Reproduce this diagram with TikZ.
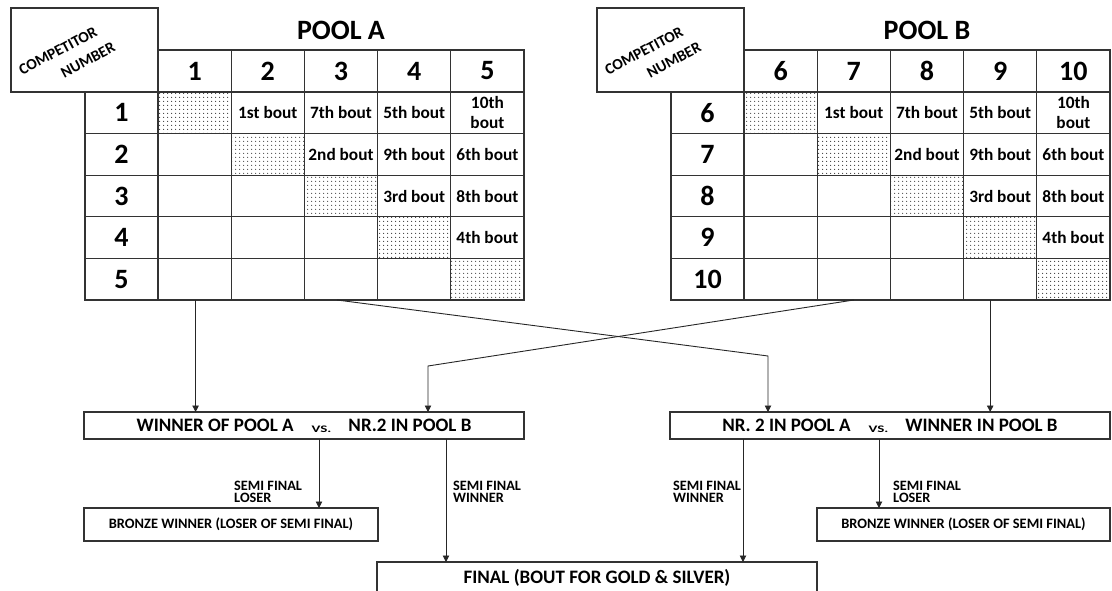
\documentclass[tikz,border=0pt]{standalone}
\usepackage{fontspec}
\setmainfont{Carlito}
\usetikzlibrary{arrows.meta,patterns}
\pgfdeclarepatternformonly{sdots}{\pgfpointorigin}{\pgfpoint{3.6pt}{4pt}}{\pgfpoint{3.6pt}{4pt}}{\pgfpathcircle{\pgfpoint{1.8pt}{2pt}}{0.6pt}\pgfusepath{fill}}
\tikzset{
  cell/.style={draw=black!80, line width=1.2pt, minimum width=73.2pt, minimum height=41.6pt,
    inner sep=0pt, outer sep=0pt, font=\fontsize{17.3}{20}\selectfont\bfseries, align=center},
  hcell/.style={cell, minimum height=42pt, font=\fontsize{28}{30}\selectfont\bfseries},
  rcell/.style={cell, minimum width=73pt, font=\fontsize{28}{30}\selectfont\bfseries},
  dotcell/.style={cell, pattern=sdots, pattern color=black!85},
  pooltitle/.style={font=\fontsize{28}{30}\selectfont\bfseries, inner sep=0pt},
  comptxt/.style={font=\fontsize{15.5}{18}\selectfont\bfseries, inner sep=0pt, rotate=28},
  mbox/.style={draw=black!80, line width=1.1pt, minimum width=440pt, minimum height=27pt,
    inner sep=0pt, outer sep=0pt, font=\fontsize{19}{21}\selectfont\bfseries},
  bbox/.style={draw=black!80, line width=1.1pt, minimum height=33pt,
    inner sep=0pt, outer sep=0pt, font=\fontsize{14.4}{16}\selectfont\bfseries},
  fbox/.style={draw=black!80, line width=1.1pt, minimum width=440pt, minimum height=32pt,
    inner sep=0pt, outer sep=0pt, font=\fontsize{19}{21}\selectfont\bfseries},
  semilabel/.style={font=\fontsize{14.3}{12}\selectfont\bfseries, align=left, inner sep=0pt, anchor=north west},
  arr/.style={draw=black!85, line width=0.9pt, -{Triangle[width=6.5pt,length=6.5pt]}},
}
\newcommand{\vsword}{\hspace{18pt}\raisebox{-1pt}{\scalebox{1.5}[1]{\fontsize{10}{12}\selectfont VS.}}\hspace{17pt}}
\expandafter\def\csname bt12\endcsname{1st bout}
\expandafter\def\csname bt13\endcsname{7th bout}
\expandafter\def\csname bt14\endcsname{5th bout}
\expandafter\def\csname bt15\endcsname{10th\\bout}
\expandafter\def\csname bt23\endcsname{2nd bout}
\expandafter\def\csname bt24\endcsname{9th bout}
\expandafter\def\csname bt25\endcsname{6th bout}
\expandafter\def\csname bt34\endcsname{3rd bout}
\expandafter\def\csname bt35\endcsname{8th bout}
\expandafter\def\csname bt45\endcsname{4th bout}
\begin{document}
\begin{tikzpicture}[x=1pt,y=-1pt]
\useasboundingbox (0,0) rectangle (1112,591);
\foreach \p/\off/\base in {A/0/0,B/586/5}{
  % competitor number box
  \draw[draw=black!80, line width=1.2pt] ({85+\off},92) -- ({11+\off},92) -- ({11+\off},8) -- ({158+\off},8) -- ({158+\off},50);
  \draw[draw=black, line width=1.6pt, dash pattern=on 6pt off 4pt] ({158+\off},50) -- ({158+\off},92) -- ({85+\off},92);
  \node[comptxt] (\p cn1) at ({58+\off},51) {COMPETITOR};
  \node[comptxt] (\p cn2) at ({88+\off},60) {NUMBER};
  % header
  \foreach \c in {1,...,5}{
    \pgfmathtruncatemacro\n{\base+\c}
    \node[hcell] (\p h\c) at ({158+\off+73.2*(\c-0.5)},71) {\n};
  }
  \foreach \r in {1,...,5}{
    \pgfmathtruncatemacro\n{\base+\r}
    \node[rcell] (\p r\r) at ({121.5+\off},{92+41.6*(\r-0.5)}) {\n};
    \foreach \c in {1,...,5}{
      \ifnum\r=\c \def\sty{dotcell}\else\def\sty{cell}\fi
      \node[\sty] (\p c\r\c) at ({158+\off+73.2*(\c-0.5)},{92+41.6*(\r-0.5)}) {\csname bt\r\c\endcsname};
    }
  }
}
\node[pooltitle] (titleA) at (341,30) {POOL A};
\node[pooltitle] (titleB) at (927,30) {POOL B};

% semi-final boxes
\node[mbox] (sf1) at (304,425.5) {WINNER OF POOL A\vsword NR.2 IN POOL B};
\node[mbox] (sf2) at (890,425.5) {NR. 2 IN POOL A\vsword WINNER IN POOL B};
\node[bbox, minimum width=294pt] (bz1) at (231,524.5) {BRONZE WINNER (LOSER OF SEMI FINAL)};
\node[bbox, minimum width=293pt] (bz2) at (963.5,524.5) {BRONZE WINNER (LOSER OF SEMI FINAL)};
\node[fbox, anchor=north] (fin) at (597,562) {FINAL (BOUT FOR GOLD \& SILVER)};

% pool to semi-final connectors
\coordinate (k1) at (768,356);
\coordinate (k2) at (428,366);
\draw[arr] ([xshift=1pt]Ac51.south) -- ([xshift=1pt]Ac51.south |- sf1.north);
\draw[arr] ([xshift=-4pt]Ac53.south) -- (k1) -- (k1 |- sf2.north);
\draw[arr] (Bc52.south) -- (k2) -- (k2 |- sf1.north);
\draw[arr] ([xshift=-10pt]Bc54.south) -- ([xshift=-10pt]Bc54.south |- sf2.north);

% semi-final to medal connectors
\draw[arr] ([xshift=15pt]sf1.south) -- ([xshift=15pt]sf1.south |- bz1.north);
\draw[arr] ([xshift=142pt]sf1.south) -- ([xshift=142pt]sf1.south |- fin.north);
\draw[arr] ([xshift=-147pt]sf2.south) -- ([xshift=-147pt]sf2.south |- fin.north);
\draw[arr] ([xshift=-11pt]sf2.south) -- ([xshift=-11pt]sf2.south |- bz2.north);

\node[semilabel] (l1) at (234,481) {SEMI FINAL\\LOSER};
\node[semilabel] (l2) at (453,481) {SEMI FINAL\\WINNER};
\node[semilabel] (l3) at (673,481) {SEMI FINAL\\WINNER};
\node[semilabel] (l4) at (893,481) {SEMI FINAL\\LOSER};
\end{tikzpicture}
\end{document}
